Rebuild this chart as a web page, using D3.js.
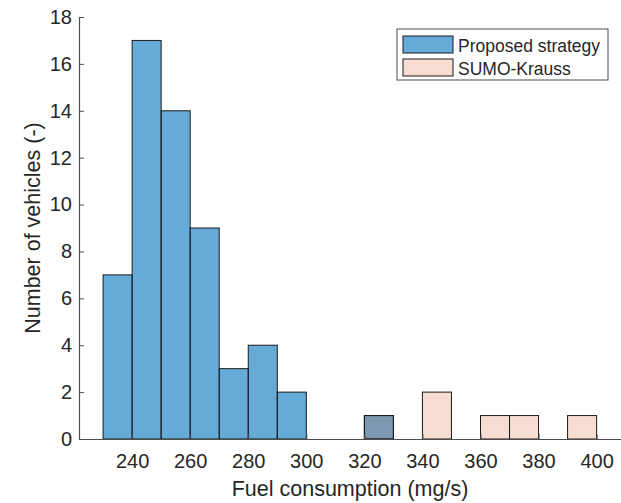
<!DOCTYPE html>
<html>
<head>
<meta charset="utf-8">
<script src="https://cdn.jsdelivr.net/npm/d3@7"></script>
<style>
  html, body { margin: 0; padding: 0; background: #fff; }
  svg { display: block; }
  text { font-family: "Liberation Sans", Arial, sans-serif; fill: #262626; }
</style>
</head>
<body>
<svg id="chart" width="621" height="503"></svg>
<script>
// Histogram bins: 10 mg/s wide, given by their lower edges
const binWidth = 10;
const proposedEdges  = [230, 240, 250, 260, 270, 280, 290, 320];
const proposedCounts = [7, 17, 14, 9, 3, 4, 2, 1];
const kraussEdges    = [320, 340, 360, 370, 390];
const kraussCounts   = [1, 2, 1, 1, 1];

const seriesNames = ["Proposed strategy", "SUMO-Krauss"];
const xTicks = [240, 260, 280, 300, 320, 340, 360, 380, 400];
const yTicks = [0, 2, 4, 6, 8, 10, 12, 14, 16, 18];

const svg = d3.select("#chart");
const plot = { left: 79, right: 621, top: 17, bottom: 439 };

const x = d3.scaleLinear().domain([221.7, 408.4]).range([plot.left, plot.right]);
const y = d3.scaleLinear().domain([0, 18]).range([plot.bottom, plot.top]);

const series = [
  { name: seriesNames[0], color: "rgb(0,114,189)", alpha: 0.6,
    bins: proposedEdges.map((e, i) => ({ x0: e, n: proposedCounts[i] })) },
  { name: seriesNames[1], color: "rgb(217,83,25)", alpha: 0.2,
    bins: kraussEdges.map((e, i) => ({ x0: e, n: kraussCounts[i] })) }
];

// bars
series.forEach(s => {
  svg.append("g").selectAll("rect").data(s.bins).join("rect")
    .attr("x", d => x(d.x0))
    .attr("y", d => y(d.n))
    .attr("width", d => x(d.x0 + binWidth) - x(d.x0))
    .attr("height", d => y(0) - y(d.n))
    .attr("fill", s.color)
    .attr("fill-opacity", s.alpha)
    .attr("stroke", "#1a1a1a")
    .attr("stroke-width", 1);
});

// axes (inward ticks, no box)
const xAxis = d3.axisBottom(x).tickValues(xTicks).tickSizeInner(-5).tickSizeOuter(0).tickPadding(14.5);
const yAxis = d3.axisLeft(y).tickValues(yTicks).tickSizeInner(-5).tickSizeOuter(0).tickPadding(7);

const gx = svg.append("g").attr("transform", `translate(0,${plot.bottom})`).call(xAxis);
const gy = svg.append("g").attr("transform", `translate(${plot.left},0)`).call(yAxis);
[gx, gy].forEach(g => {
  g.select(".domain").attr("stroke", "#4d4d4d").attr("stroke-width", 1.2);
  g.selectAll(".tick line").attr("stroke", "#4d4d4d");
  g.selectAll(".tick text").attr("font-size", 20).attr("font-family", "Liberation Sans, Arial, sans-serif").attr("fill", "#262626");
});

// axis labels
svg.append("text")
  .attr("x", (plot.left + plot.right) / 2).attr("y", 496)
  .attr("text-anchor", "middle").attr("font-size", 21.5)
  .text("Fuel consumption (mg/s)");

svg.append("text")
  .attr("transform", `translate(40,${(plot.top + plot.bottom) / 2}) rotate(-90)`)
  .attr("text-anchor", "middle").attr("font-size", 21.5)
  .text("Number of vehicles (-)");

// legend
const lg = svg.append("g").attr("transform", "translate(397,29)");
lg.append("rect").attr("width", 211).attr("height", 51)
  .attr("fill", "#fff").attr("stroke", "#4d4d4d").attr("stroke-width", 1);
series.forEach((s, i) => {
  const row = lg.append("g").attr("transform", `translate(6,${7 + i * 23})`);
  row.append("rect").attr("width", 50).attr("height", 17)
    .attr("fill", s.color).attr("fill-opacity", s.alpha)
    .attr("stroke", "#1a1a1a").attr("stroke-width", 1);
  row.append("text").attr("x", 55).attr("y", 16).attr("font-size", 17.5).text(s.name);
});
</script>
</body>
</html>
